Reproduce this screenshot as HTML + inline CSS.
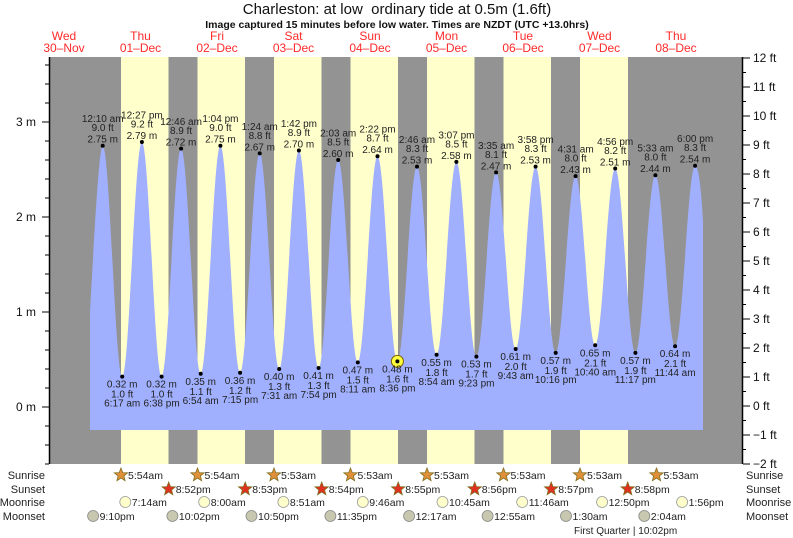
<!DOCTYPE html>
<html><head><meta charset="utf-8"><style>
html,body{margin:0;padding:0;background:#fff}
svg{display:block;font-family:"Liberation Sans",sans-serif}
</style></head><body>
<svg width="793" height="538" viewBox="0 0 793 538" xmlns="http://www.w3.org/2000/svg">
<text x="397" y="14" text-anchor="middle" font-size="15" fill="#111">Charleston: at low&#160; ordinary tide at 0.5m (1.6ft)</text>
<text x="397" y="28" text-anchor="middle" font-size="10.5" font-weight="bold" fill="#111">Image captured 15 minutes before low water. Times are NZDT (UTC +13.0hrs)</text>
<g fill="#ff2a2a" font-size="12" text-anchor="middle">
<text x="64" y="40">Wed</text><text x="64" y="52">30–Nov</text>
<text x="140.5" y="40">Thu</text><text x="140.5" y="52">01–Dec</text>
<text x="217" y="40">Fri</text><text x="217" y="52">02–Dec</text>
<text x="293.5" y="40">Sat</text><text x="293.5" y="52">03–Dec</text>
<text x="370" y="40">Sun</text><text x="370" y="52">04–Dec</text>
<text x="446.5" y="40">Mon</text><text x="446.5" y="52">05–Dec</text>
<text x="523" y="40">Tue</text><text x="523" y="52">06–Dec</text>
<text x="599.5" y="40">Wed</text><text x="599.5" y="52">07–Dec</text>
<text x="676" y="40">Thu</text><text x="676" y="52">08–Dec</text>
</g>
<rect x="50" y="57" width="692" height="407" fill="#939393"/>
<g fill="#ffffcc">
<rect x="121" y="57" width="47.5" height="407"/>
<rect x="197.5" y="57" width="47.5" height="407"/>
<rect x="274" y="57" width="47.5" height="407"/>
<rect x="350.5" y="57" width="47.5" height="407"/>
<rect x="427" y="57" width="47.5" height="407"/>
<rect x="503.5" y="57" width="47.5" height="407"/>
<rect x="580" y="57" width="48" height="407"/>
</g>
<path fill="#a0b0ff" d="M90,430 L90,312 C94,240 99,145.75 102.7,145.75
C109.7,145.75 115.2,376.6 122.2,376.6
C129.3,376.6 134.8,141.95 141.9,141.95
C149.0,141.95 154.5,376.6 161.6,376.6
C168.6,376.6 174.1,148.6 181.1,148.6
C188.2,148.6 193.6,373.75 200.7,373.75
C207.8,373.75 213.3,145.75 220.4,145.75
C227.5,145.75 233.0,372.8 240.1,372.8
C247.2,372.8 252.6,153.35 259.7,153.35
C266.7,153.35 272.2,369 279.2,369
C286.3,369 291.8,150.5 298.9,150.5
C306.0,150.5 311.5,368.05 318.6,368.05
C325.7,368.05 331.1,160 338.2,160
C345.3,160 350.7,362.35 357.8,362.35
C364.9,362.35 370.4,156.2 377.5,156.2
C384.7,156.2 390.2,361.4 397.4,361.4
C404.5,361.4 409.9,166.65 417.0,166.65
C424.1,166.65 429.5,354.75 436.6,354.75
C443.7,354.75 449.3,161.9 456.4,161.9
C463.6,161.9 469.2,356.65 476.4,356.65
C483.5,356.65 489.0,172.35 496.1,172.35
C503.2,172.35 508.6,349.05 515.7,349.05
C522.9,349.05 528.4,166.65 535.6,166.65
C542.8,166.65 548.5,352.85 555.7,352.85
C562.9,352.85 568.4,176.15 575.6,176.15
C582.7,176.15 588.1,345.25 595.2,345.25
C602.4,345.25 608.0,168.55 615.2,168.55
C622.5,168.55 628.1,352.85 635.4,352.85
C642.6,352.85 648.2,175.2 655.4,175.2
C662.5,175.2 668.0,346.2 675.1,346.2
C682.3,346.2 687.9,165.7 695.1,165.7
C699,165.7 701.5,195 703,220 L703,430 Z"/>
<g stroke="#000" stroke-width="1.5" fill="none">
<line x1="49.5" y1="57" x2="49.5" y2="464"/>
<line x1="742.5" y1="57" x2="742.5" y2="464"/>
</g>
<g stroke="#000" stroke-width="1">
<line x1="42" y1="407" x2="49" y2="407"/><line x1="42" y1="312" x2="49" y2="312"/><line x1="42" y1="217" x2="49" y2="217"/><line x1="42" y1="122" x2="49" y2="122"/>
<line x1="45" y1="464" x2="49" y2="464"/><line x1="45" y1="445" x2="49" y2="445"/><line x1="45" y1="426" x2="49" y2="426"/>
<line x1="45" y1="388" x2="49" y2="388"/><line x1="45" y1="369" x2="49" y2="369"/><line x1="45" y1="350" x2="49" y2="350"/><line x1="45" y1="331" x2="49" y2="331"/>
<line x1="45" y1="293" x2="49" y2="293"/><line x1="45" y1="274" x2="49" y2="274"/><line x1="45" y1="255" x2="49" y2="255"/><line x1="45" y1="236" x2="49" y2="236"/>
<line x1="45" y1="198" x2="49" y2="198"/><line x1="45" y1="179" x2="49" y2="179"/><line x1="45" y1="160" x2="49" y2="160"/><line x1="45" y1="141" x2="49" y2="141"/>
<line x1="45" y1="103" x2="49" y2="103"/><line x1="45" y1="84" x2="49" y2="84"/><line x1="45" y1="65" x2="49" y2="65"/>
</g>
<g stroke="#000" stroke-width="1">
<line x1="743" y1="464" x2="750" y2="464"/><line x1="743" y1="435" x2="750" y2="435"/><line x1="743" y1="406" x2="750" y2="406"/><line x1="743" y1="377" x2="750" y2="377"/><line x1="743" y1="348" x2="750" y2="348"/><line x1="743" y1="319" x2="750" y2="319"/><line x1="743" y1="290" x2="750" y2="290"/><line x1="743" y1="261" x2="750" y2="261"/><line x1="743" y1="232" x2="750" y2="232"/><line x1="743" y1="203" x2="750" y2="203"/><line x1="743" y1="174" x2="750" y2="174"/><line x1="743" y1="145" x2="750" y2="145"/><line x1="743" y1="116" x2="750" y2="116"/><line x1="743" y1="87" x2="750" y2="87"/><line x1="743" y1="58" x2="750" y2="58"/>
<line x1="743" y1="449.5" x2="746" y2="449.5"/><line x1="743" y1="420.5" x2="746" y2="420.5"/><line x1="743" y1="391.5" x2="746" y2="391.5"/><line x1="743" y1="362.5" x2="746" y2="362.5"/><line x1="743" y1="333.5" x2="746" y2="333.5"/><line x1="743" y1="304.5" x2="746" y2="304.5"/><line x1="743" y1="275.5" x2="746" y2="275.5"/><line x1="743" y1="246.5" x2="746" y2="246.5"/><line x1="743" y1="217.5" x2="746" y2="217.5"/><line x1="743" y1="188.5" x2="746" y2="188.5"/><line x1="743" y1="159.5" x2="746" y2="159.5"/><line x1="743" y1="130.5" x2="746" y2="130.5"/><line x1="743" y1="101.5" x2="746" y2="101.5"/><line x1="743" y1="72.5" x2="746" y2="72.5"/>
</g>
<g font-size="12" fill="#111" text-anchor="end">
<text x="36" y="411">0 m</text><text x="36" y="316">1 m</text><text x="36" y="221">2 m</text><text x="36" y="126">3 m</text>
</g>
<g font-size="12" fill="#111">
<text x="753" y="468">−2 ft</text><text x="753" y="439">−1 ft</text><text x="753" y="410">0 ft</text><text x="753" y="381">1 ft</text><text x="753" y="352">2 ft</text><text x="753" y="323">3 ft</text><text x="753" y="294">4 ft</text><text x="753" y="265">5 ft</text><text x="753" y="236">6 ft</text><text x="753" y="207">7 ft</text><text x="753" y="178">8 ft</text><text x="753" y="149">9 ft</text><text x="753" y="120">10 ft</text><text x="753" y="91">11 ft</text><text x="753" y="62">12 ft</text>
</g>
<circle cx="397.4" cy="361.4" r="6" fill="#ffff40" stroke="#806000" stroke-width="1"/>
<g fill="#000">
<circle cx="102.7" cy="145.75" r="2"/><circle cx="122.2" cy="376.6" r="2"/><circle cx="141.9" cy="141.95" r="2"/><circle cx="161.6" cy="376.6" r="2"/><circle cx="181.1" cy="148.6" r="2"/><circle cx="200.7" cy="373.75" r="2"/><circle cx="220.4" cy="145.75" r="2"/><circle cx="240.1" cy="372.8" r="2"/><circle cx="259.7" cy="153.35" r="2"/><circle cx="279.2" cy="369" r="2"/><circle cx="298.9" cy="150.5" r="2"/><circle cx="318.6" cy="368.05" r="2"/><circle cx="338.2" cy="160" r="2"/><circle cx="357.8" cy="362.35" r="2"/><circle cx="377.5" cy="156.2" r="2"/><circle cx="397.4" cy="361.4" r="2"/><circle cx="417.0" cy="166.65" r="2"/><circle cx="436.6" cy="354.75" r="2"/><circle cx="456.4" cy="161.9" r="2"/><circle cx="476.4" cy="356.65" r="2"/><circle cx="496.1" cy="172.35" r="2"/><circle cx="515.7" cy="349.05" r="2"/><circle cx="535.6" cy="166.65" r="2"/><circle cx="555.7" cy="352.85" r="2"/><circle cx="575.6" cy="176.15" r="2"/><circle cx="595.2" cy="345.25" r="2"/><circle cx="615.2" cy="168.55" r="2"/><circle cx="635.4" cy="352.85" r="2"/><circle cx="655.4" cy="175.2" r="2"/><circle cx="675.1" cy="346.2" r="2"/><circle cx="695.1" cy="165.7" r="2"/>
</g>
<g font-size="10" fill="#222" text-anchor="middle">
<text x="102.7" y="122.2">12:10 am</text><text x="102.7" y="131.2">9.0 ft</text><text x="102.7" y="142.7">2.75 m</text>
<text x="141.9" y="118.4">12:27 pm</text><text x="141.9" y="127.4">9.2 ft</text><text x="141.9" y="138.9">2.79 m</text>
<text x="181.1" y="125.1">12:46 am</text><text x="181.1" y="134.1">8.9 ft</text><text x="181.1" y="145.6">2.72 m</text>
<text x="220.4" y="122.2">1:04 pm</text><text x="220.4" y="131.2">9.0 ft</text><text x="220.4" y="142.7">2.75 m</text>
<text x="259.7" y="129.8">1:24 am</text><text x="259.7" y="138.8">8.8 ft</text><text x="259.7" y="150.3">2.67 m</text>
<text x="298.9" y="127">1:42 pm</text><text x="298.9" y="136">8.9 ft</text><text x="298.9" y="147.5">2.70 m</text>
<text x="338.2" y="136.5">2:03 am</text><text x="338.2" y="145.5">8.5 ft</text><text x="338.2" y="157">2.60 m</text>
<text x="377.5" y="132.7">2:22 pm</text><text x="377.5" y="141.7">8.7 ft</text><text x="377.5" y="153.2">2.64 m</text>
<text x="417" y="143.1">2:46 am</text><text x="417" y="152.1">8.3 ft</text><text x="417" y="163.6">2.53 m</text>
<text x="456.4" y="138.4">3:07 pm</text><text x="456.4" y="147.4">8.5 ft</text><text x="456.4" y="158.9">2.58 m</text>
<text x="496.1" y="148.8">3:35 am</text><text x="496.1" y="157.8">8.1 ft</text><text x="496.1" y="169.3">2.47 m</text>
<text x="535.6" y="143.1">3:58 pm</text><text x="535.6" y="152.1">8.3 ft</text><text x="535.6" y="163.6">2.53 m</text>
<text x="575.6" y="152.6">4:31 am</text><text x="575.6" y="161.6">8.0 ft</text><text x="575.6" y="173.1">2.43 m</text>
<text x="615.2" y="145">4:56 pm</text><text x="615.2" y="154">8.2 ft</text><text x="615.2" y="165.5">2.51 m</text>
<text x="655.4" y="151.7">5:33 am</text><text x="655.4" y="160.7">8.0 ft</text><text x="655.4" y="172.2">2.44 m</text>
<text x="695.1" y="142.2">6:00 pm</text><text x="695.1" y="151.2">8.3 ft</text><text x="695.1" y="162.7">2.54 m</text>
<text x="122.2" y="387.6">0.32 m</text><text x="122.2" y="397.6">1.0 ft</text><text x="122.2" y="406.6">6:17 am</text>
<text x="161.6" y="387.6">0.32 m</text><text x="161.6" y="397.6">1.0 ft</text><text x="161.6" y="406.6">6:38 pm</text>
<text x="200.7" y="384.8">0.35 m</text><text x="200.7" y="394.8">1.1 ft</text><text x="200.7" y="403.8">6:54 am</text>
<text x="240.1" y="383.8">0.36 m</text><text x="240.1" y="393.8">1.2 ft</text><text x="240.1" y="402.8">7:15 pm</text>
<text x="279.2" y="380">0.40 m</text><text x="279.2" y="390">1.3 ft</text><text x="279.2" y="399">7:31 am</text>
<text x="318.6" y="379">0.41 m</text><text x="318.6" y="389">1.3 ft</text><text x="318.6" y="398">7:54 pm</text>
<text x="357.8" y="373.4">0.47 m</text><text x="357.8" y="383.4">1.5 ft</text><text x="357.8" y="392.4">8:11 am</text>
<text x="397.4" y="372.4">0.48 m</text><text x="397.4" y="382.4">1.6 ft</text><text x="397.4" y="391.4">8:36 pm</text>
<text x="436.6" y="365.8">0.55 m</text><text x="436.6" y="375.8">1.8 ft</text><text x="436.6" y="384.8">8:54 am</text>
<text x="476.4" y="367.7">0.53 m</text><text x="476.4" y="377.7">1.7 ft</text><text x="476.4" y="386.7">9:23 pm</text>
<text x="515.7" y="360">0.61 m</text><text x="515.7" y="370">2.0 ft</text><text x="515.7" y="379">9:43 am</text>
<text x="555.7" y="363.9">0.57 m</text><text x="555.7" y="373.9">1.9 ft</text><text x="555.7" y="382.9">10:16 pm</text>
<text x="595.2" y="356.3">0.65 m</text><text x="595.2" y="366.3">2.1 ft</text><text x="595.2" y="375.3">10:40 am</text>
<text x="635.4" y="363.9">0.57 m</text><text x="635.4" y="373.9">1.9 ft</text><text x="635.4" y="382.9">11:17 pm</text>
<text x="675.1" y="357.2">0.64 m</text><text x="675.1" y="367.2">2.1 ft</text><text x="675.1" y="376.2">11:44 am</text>
</g>
<g font-size="11" fill="#222">
<text x="45" y="479" text-anchor="end">Sunrise</text><text x="45" y="493" text-anchor="end">Sunset</text><text x="45" y="506" text-anchor="end">Moonrise</text><text x="45" y="520" text-anchor="end">Moonset</text>
<text x="746" y="479">Sunrise</text><text x="746" y="493">Sunset</text><text x="746" y="506">Moonrise</text><text x="746" y="520">Moonset</text>
</g>
<defs>
<polygon id="st" points="0,-7 1.8,-2.4 6.7,-2.2 2.9,0.9 4.1,5.7 0,3 -4.1,5.7 -2.9,0.9 -6.7,-2.2 -1.8,-2.4" stroke="#807020" stroke-width="0.8"/>
</defs>
<g fill="#e09038">
<use href="#st" x="121" y="475"/><use href="#st" x="197.5" y="475"/><use href="#st" x="274" y="475"/><use href="#st" x="350.5" y="475"/><use href="#st" x="427" y="475"/><use href="#st" x="503.5" y="475"/><use href="#st" x="580" y="475"/><use href="#st" x="656.5" y="475"/>
</g>
<g fill="#e03020">
<use href="#st" x="168.7" y="489"/><use href="#st" x="245.2" y="489"/><use href="#st" x="321.7" y="489"/><use href="#st" x="398.2" y="489"/><use href="#st" x="474.7" y="489"/><use href="#st" x="551.2" y="489"/><use href="#st" x="627.7" y="489"/>
</g>
<g fill="#ffffcc" stroke="#999" stroke-width="0.8">
<circle cx="125.3" cy="502" r="5.5"/><circle cx="204.2" cy="502" r="5.5"/><circle cx="283.4" cy="502" r="5.5"/><circle cx="362.8" cy="502" r="5.5"/><circle cx="442.5" cy="502" r="5.5"/><circle cx="522.2" cy="502" r="5.5"/><circle cx="602.1" cy="502" r="5.5"/><circle cx="682.1" cy="502" r="5.5"/>
</g>
<g fill="#c8c8b0" stroke="#888" stroke-width="0.8">
<circle cx="93.1" cy="516" r="5.5"/><circle cx="172.4" cy="516" r="5.5"/><circle cx="251.5" cy="516" r="5.5"/><circle cx="330.4" cy="516" r="5.5"/><circle cx="409.1" cy="516" r="5.5"/><circle cx="487.6" cy="516" r="5.5"/><circle cx="566" cy="516" r="5.5"/><circle cx="644.3" cy="516" r="5.5"/>
</g>
<g font-size="10.5" fill="#222">
<text x="128" y="479">5:54am</text><text x="204.5" y="479">5:54am</text><text x="281" y="479">5:53am</text><text x="357.5" y="479">5:53am</text><text x="434" y="479">5:53am</text><text x="510.5" y="479">5:53am</text><text x="587" y="479">5:53am</text><text x="663.5" y="479">5:53am</text>
<text x="175.7" y="493">8:52pm</text><text x="252.2" y="493">8:53pm</text><text x="328.7" y="493">8:54pm</text><text x="405.2" y="493">8:55pm</text><text x="481.7" y="493">8:56pm</text><text x="558.2" y="493">8:57pm</text><text x="634.7" y="493">8:58pm</text>
<text x="131.8" y="506">7:14am</text><text x="210.7" y="506">8:00am</text><text x="289.9" y="506">8:51am</text><text x="369.3" y="506">9:46am</text><text x="449" y="506">10:45am</text><text x="528.7" y="506">11:46am</text><text x="608.6" y="506">12:50pm</text><text x="688.6" y="506">1:56pm</text>
<text x="99.6" y="520">9:10pm</text><text x="178.9" y="520">10:02pm</text><text x="258" y="520">10:50pm</text><text x="336.9" y="520">11:35pm</text><text x="415.6" y="520">12:17am</text><text x="494.1" y="520">12:55am</text><text x="572.5" y="520">1:30am</text><text x="650.8" y="520">2:04am</text>
<text x="574" y="534" font-size="10">First Quarter | 10:02pm</text>
</g>
</svg>
</body></html>
